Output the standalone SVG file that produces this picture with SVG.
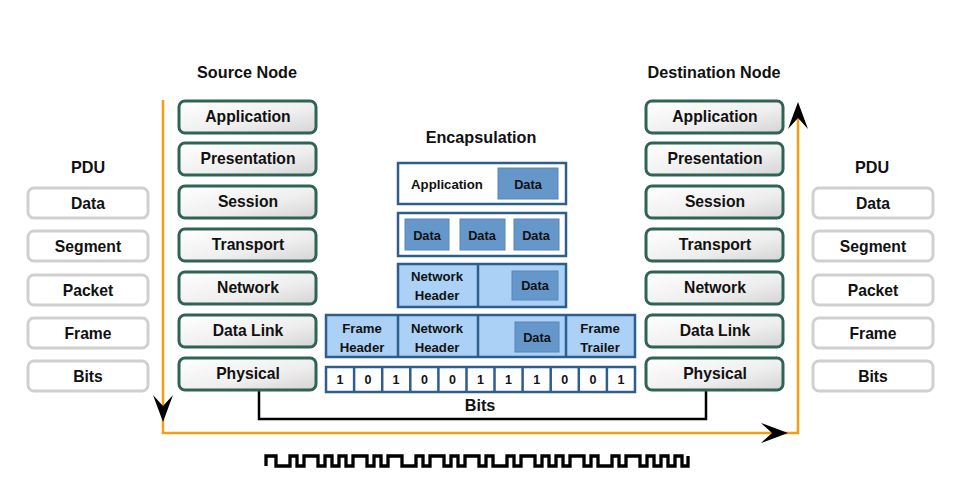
<svg xmlns="http://www.w3.org/2000/svg" width="972" height="481" viewBox="0 0 972 481">
<defs>
  <linearGradient id="layerFill" x1="0" y1="0" x2="1" y2="1">
    <stop offset="0" stop-color="#ffffff"/>
    <stop offset="0.6" stop-color="#eeeeee"/>
    <stop offset="1" stop-color="#d4d4d4"/>
  </linearGradient>
  <path id="arrowDown" d="M0,0 L-10,-27 L0,-16 L10,-27 Z"/>
</defs>
<style>
  text { font-family: "Liberation Sans", Arial, sans-serif; font-weight: bold; fill: #111; text-anchor: middle; dominant-baseline: central; }
  .title { font-size: 16.2px; }
  .lt { font-size: 15.7px; }
  .et { font-size: 13.2px; }
  .dt { font-size: 12.8px; }
  .bt { font-size: 12.5px; }
  .layer { fill: url(#layerFill); stroke: #2f6356; stroke-width: 3; }
  .pdu { fill: #ffffff; stroke: #d0d0d0; stroke-width: 3; }
  .ebox { stroke: #2f5d8c; stroke-width: 2.5; }
  .white { fill: #ffffff; }
  .light { fill: #abd1f6; }
  .dat { fill: #6697cb; stroke: #5a86b6; stroke-width: 1; }
  .div { stroke: #2f5d8c; stroke-width: 2.5; }
  .orange { fill: none; stroke: #f89c12; stroke-width: 2.5; }
  .black { fill: none; stroke: #000; stroke-width: 2.5; }
  .arrow { fill: #000; }
  .wave { fill: none; stroke: #000; stroke-width: 3.3; stroke-linejoin: miter; }
</style>

<rect width="972" height="481" fill="#ffffff"/>

<!-- connectors -->
<g id="connectors">
  <path class="orange" d="M163,100 V433 H798 V108"/>
  <path class="black" d="M259,390 V419 H706 V390"/>
  <use href="#arrowDown" class="arrow" transform="translate(163,422)"/>
  <use href="#arrowDown" class="arrow" transform="translate(788,433) rotate(-90)"/>
  <use href="#arrowDown" class="arrow" transform="translate(798,102) rotate(180)"/>
</g>

<!-- titles -->
<g id="titles">
  <text class="title" x="247" y="72">Source Node</text>
  <text class="title" x="714" y="72">Destination Node</text>
  <text class="title" x="481" y="137">Encapsulation</text>
  <text class="title" x="88" y="167">PDU</text>
  <text class="title" x="872" y="167">PDU</text>
</g>

<!-- PDU left -->
<g id="pdu-left">
  <g id="pdu-l-data"><rect class="pdu" x="28" y="188" width="120" height="30" rx="6"/><text class="lt" x="88" y="203">Data</text></g>
  <g id="pdu-l-segment"><rect class="pdu" x="28" y="231" width="120" height="30" rx="6"/><text class="lt" x="88" y="246">Segment</text></g>
  <g id="pdu-l-packet"><rect class="pdu" x="28" y="275" width="120" height="30" rx="6"/><text class="lt" x="88" y="290">Packet</text></g>
  <g id="pdu-l-frame"><rect class="pdu" x="28" y="318" width="120" height="30" rx="6"/><text class="lt" x="88" y="333">Frame</text></g>
  <g id="pdu-l-bits"><rect class="pdu" x="28" y="361" width="120" height="30" rx="6"/><text class="lt" x="88" y="376">Bits</text></g>
</g>

<!-- PDU right -->
<g id="pdu-right">
  <g id="pdu-r-data"><rect class="pdu" x="813" y="188" width="120" height="30" rx="6"/><text class="lt" x="873" y="203">Data</text></g>
  <g id="pdu-r-segment"><rect class="pdu" x="813" y="231" width="120" height="30" rx="6"/><text class="lt" x="873" y="246">Segment</text></g>
  <g id="pdu-r-packet"><rect class="pdu" x="813" y="275" width="120" height="30" rx="6"/><text class="lt" x="873" y="290">Packet</text></g>
  <g id="pdu-r-frame"><rect class="pdu" x="813" y="318" width="120" height="30" rx="6"/><text class="lt" x="873" y="333">Frame</text></g>
  <g id="pdu-r-bits"><rect class="pdu" x="813" y="361" width="120" height="30" rx="6"/><text class="lt" x="873" y="376">Bits</text></g>
</g>

<!-- Source layers -->
<g id="source-node">
  <g id="src-application"><rect class="layer" x="179" y="101" width="137" height="32" rx="6"/><text class="lt" x="248" y="116.5">Application</text></g>
  <g id="src-presentation"><rect class="layer" x="179" y="143" width="137" height="32" rx="6"/><text class="lt" x="248" y="158.5">Presentation</text></g>
  <g id="src-session"><rect class="layer" x="179" y="186" width="137" height="32" rx="6"/><text class="lt" x="248" y="201.5">Session</text></g>
  <g id="src-transport"><rect class="layer" x="179" y="229" width="137" height="32" rx="6"/><text class="lt" x="248" y="244.5">Transport</text></g>
  <g id="src-network"><rect class="layer" x="179" y="272" width="137" height="32" rx="6"/><text class="lt" x="248" y="287.5">Network</text></g>
  <g id="src-datalink"><rect class="layer" x="179" y="315" width="137" height="32" rx="6"/><text class="lt" x="248" y="330.5">Data Link</text></g>
  <g id="src-physical"><rect class="layer" x="179" y="358" width="137" height="32" rx="6"/><text class="lt" x="248" y="373.5">Physical</text></g>
</g>

<!-- Destination layers -->
<g id="destination-node">
  <g id="dst-application"><rect class="layer" x="646" y="101" width="137" height="32" rx="6"/><text class="lt" x="715" y="116.5">Application</text></g>
  <g id="dst-presentation"><rect class="layer" x="646" y="143" width="137" height="32" rx="6"/><text class="lt" x="715" y="158.5">Presentation</text></g>
  <g id="dst-session"><rect class="layer" x="646" y="186" width="137" height="32" rx="6"/><text class="lt" x="715" y="201.5">Session</text></g>
  <g id="dst-transport"><rect class="layer" x="646" y="229" width="137" height="32" rx="6"/><text class="lt" x="715" y="244.5">Transport</text></g>
  <g id="dst-network"><rect class="layer" x="646" y="272" width="137" height="32" rx="6"/><text class="lt" x="715" y="287.5">Network</text></g>
  <g id="dst-datalink"><rect class="layer" x="646" y="315" width="137" height="32" rx="6"/><text class="lt" x="715" y="330.5">Data Link</text></g>
  <g id="dst-physical"><rect class="layer" x="646" y="358" width="137" height="32" rx="6"/><text class="lt" x="715" y="373.5">Physical</text></g>
</g>

<!-- Encapsulation -->
<g id="enc-application">
  <rect class="ebox white" x="398" y="163" width="168" height="41"/>
  <text class="et" x="447" y="184.5">Application</text>
  <rect class="dat" x="498" y="168" width="60" height="31"/>
  <text class="dt" x="528" y="184">Data</text>
</g>
<g id="enc-segments">
  <rect class="ebox white" x="398" y="213" width="168" height="43"/>
  <rect class="dat" x="405" y="219" width="44" height="31"/>
  <text class="dt" x="427" y="235">Data</text>
  <rect class="dat" x="460" y="219" width="45" height="31"/>
  <text class="dt" x="482" y="235">Data</text>
  <rect class="dat" x="514" y="219" width="45" height="31"/>
  <text class="dt" x="536" y="235">Data</text>
</g>
<g id="enc-packet">
  <rect class="ebox light" x="398" y="264" width="168" height="43"/>
  <line class="div" x1="478" y1="264" x2="478" y2="307"/>
  <text class="et" x="437" y="276">Network</text>
  <text class="et" x="437" y="295">Header</text>
  <rect class="dat" x="512" y="271" width="46" height="29"/>
  <text class="dt" x="535" y="285">Data</text>
</g>
<g id="enc-frame">
  <rect class="ebox light" x="326" y="315" width="309" height="42"/>
  <line class="div" x1="398" y1="315" x2="398" y2="357"/>
  <line class="div" x1="478" y1="315" x2="478" y2="357"/>
  <line class="div" x1="566" y1="315" x2="566" y2="357"/>
  <text class="et" x="362" y="328">Frame</text>
  <text class="et" x="362" y="347">Header</text>
  <text class="et" x="437" y="328">Network</text>
  <text class="et" x="437" y="347">Header</text>
  <rect class="dat" x="515" y="322" width="44" height="30"/>
  <text class="dt" x="537" y="337">Data</text>
  <text class="et" x="600" y="328">Frame</text>
  <text class="et" x="600" y="347">Trailer</text>
</g>
<g id="enc-bits">
  <rect class="ebox white" x="326" y="367" width="309" height="25"/>
  <line class="div" x1="354.1" y1="367" x2="354.1" y2="392"/>
  <line class="div" x1="382.2" y1="367" x2="382.2" y2="392"/>
  <line class="div" x1="410.3" y1="367" x2="410.3" y2="392"/>
  <line class="div" x1="438.4" y1="367" x2="438.4" y2="392"/>
  <line class="div" x1="466.5" y1="367" x2="466.5" y2="392"/>
  <line class="div" x1="494.5" y1="367" x2="494.5" y2="392"/>
  <line class="div" x1="522.6" y1="367" x2="522.6" y2="392"/>
  <line class="div" x1="550.7" y1="367" x2="550.7" y2="392"/>
  <line class="div" x1="578.8" y1="367" x2="578.8" y2="392"/>
  <line class="div" x1="606.9" y1="367" x2="606.9" y2="392"/>
  <text class="bt" x="340" y="380">1</text>
  <text class="bt" x="368" y="380">0</text>
  <text class="bt" x="396" y="380">1</text>
  <text class="bt" x="424.4" y="380">0</text>
  <text class="bt" x="452.5" y="380">0</text>
  <text class="bt" x="480.5" y="380">1</text>
  <text class="bt" x="508.6" y="380">1</text>
  <text class="bt" x="536.7" y="380">1</text>
  <text class="bt" x="564.8" y="380">0</text>
  <text class="bt" x="592.9" y="380">0</text>
  <text class="bt" x="620.9" y="380">1</text>
  <text class="title" x="480" y="405">Bits</text>
</g>

<!-- signal waveform -->
<g id="waveform">
  <path class="wave" d="M266,466 V456 H276 V466 H290 V456 H297 V466 H304 V456 H318 V466 H325 V456 H332 V466 H339 V456 H346 V466 H353 V456 H367 V466 H374 V456 H381 V466 H388 V456 H402 V466 H416 V456 H423 V466 H430 V456 H444 V466 H451 V456 H458 V466 H465 V456 H479 V466 H486 V456 H493 V466 H507 V456 H514 V466 H521 V456 H535 V466 H542 V456 H549 V466 H556 V456 H563 V466 H570 V456 H584 V466 H591 V456 H598 V466 H612 V456 H619 V466 H626 V456 H640 V466 H647 V456 H654 V466 H661 V456 H668 V466 H675 V456 H682 V466 H688 V456"/>
</g>
</svg>
